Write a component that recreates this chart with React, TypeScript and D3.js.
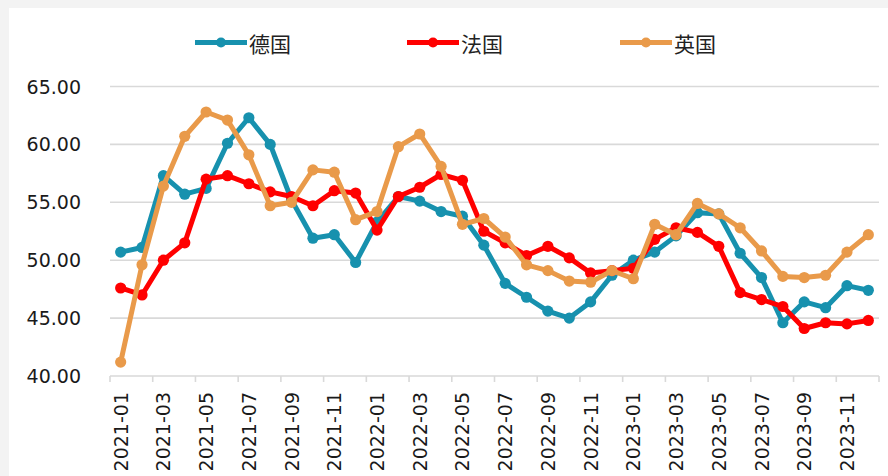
import React from "react";
import * as d3 from "d3";

const months = [
  "2021-01","2021-02","2021-03","2021-04","2021-05","2021-06","2021-07","2021-08","2021-09","2021-10","2021-11","2021-12",
  "2022-01","2022-02","2022-03","2022-04","2022-05","2022-06","2022-07","2022-08","2022-09","2022-10","2022-11","2022-12",
  "2023-01","2023-02","2023-03","2023-04","2023-05","2023-06","2023-07","2023-08","2023-09","2023-10","2023-11","2023-12",
];

const germany = [
  50.7, 51.1, 57.3, 55.7, 56.2, 60.1, 62.3, 60.0, 55.2, 51.9, 52.2, 49.8,
  53.3, 55.5, 55.1, 54.2, 53.8, 51.3, 48.0, 46.8, 45.6, 45.0, 46.4, 48.7,
  50.0, 50.7, 52.1, 54.1, 54.0, 50.6, 48.5, 44.6, 46.4, 45.9, 47.8, 47.4,
];

const france = [
  47.6, 47.0, 50.0, 51.5, 57.0, 57.3, 56.6, 55.9, 55.5, 54.7, 56.0, 55.8,
  52.6, 55.5, 56.3, 57.4, 56.9, 52.5, 51.5, 50.4, 51.2, 50.2, 48.9, 49.1,
  49.3, 51.8, 52.8, 52.4, 51.2, 47.2, 46.6, 46.0, 44.1, 44.6, 44.5, 44.8,
];

const uk = [
  41.2, 49.6, 56.4, 60.7, 62.8, 62.1, 59.1, 54.7, 55.0, 57.8, 57.6, 53.5,
  54.2, 59.8, 60.9, 58.1, 53.1, 53.6, 52.0, 49.6, 49.1, 48.2, 48.1, 49.1,
  48.4, 53.1, 52.2, 54.9, 54.0, 52.8, 50.8, 48.6, 48.5, 48.7, 50.7, 52.2,
];

const yTicks = [40, 45, 50, 55, 60, 65];

const seriesNames = ["德国", "法国", "英国"];
const seriesData = [germany, france, uk];
const colors = ["#1791ae", "#ff0000", "#e99a4a"];

export default function App() {
  const W = 888, H = 476;
  const x = d3.scaleBand<string>().domain(months).range([110, 879]).padding(0);
  const y = d3.scaleLinear().domain([40, 65]).range([376, 86.5]);
  const bw = x.bandwidth();
  const cx = (m: string) => (x(m) as number) + bw / 2;
  const line = d3.line<number>().x((_, i) => cx(months[i])).y((d) => y(d));

  const tickXs: number[] = [];
  for (let i = 0; i <= months.length; i += 2) tickXs.push(110 + i * bw);

  const legendX = [195, 407, 620];

  return (
    <svg width={W} height={H} style={{ position: "absolute", left: 0, top: 0, display: "block" }}>
      <rect x={0} y={0} width={W} height={H} fill="#f3f3f3" />
      <rect x={9} y={8} width={W - 9} height={H - 8} fill="#ffffff" />
      {yTicks.map((t) => (
        <g key={t}>
          <line x1={110} x2={879} y1={y(t)} y2={y(t)} stroke="#d9d9d9" strokeWidth={1.6} />
          <text x={81} y={y(t)} textAnchor="end" dominantBaseline="central"
            fontFamily="'DejaVu Sans', Verdana, sans-serif" fontSize={19} fill="#1a1a1a">
            {t.toFixed(2)}
          </text>
        </g>
      ))}
      {tickXs.map((tx, i) => (
        <line key={i} x1={tx} x2={tx} y1={y(40)} y2={y(40) + 6} stroke="#d9d9d9" strokeWidth={1.6} />
      ))}
      {months.map((m, i) =>
        i % 2 === 0 ? (
          <text key={m} transform={`translate(${cx(m)},392) rotate(-90)`} textAnchor="end"
            dominantBaseline="central" fontFamily="'DejaVu Sans', Verdana, sans-serif" fontSize={19} fill="#1a1a1a">
            {m}
          </text>
        ) : null
      )}
      {seriesData.map((data, s) => (
        <g key={s}>
          <path d={line(data) || ""} fill="none" stroke={colors[s]} strokeWidth={5} strokeLinejoin="round" />
          {data.map((v, i) => (
            <circle key={i} cx={cx(months[i])} cy={y(v)} r={5.6} fill={colors[s]} />
          ))}
        </g>
      ))}
      {seriesNames.map((n, s) => (
        <g key={n}>
          <line x1={legendX[s]} x2={legendX[s] + 52} y1={42.5} y2={42.5} stroke={colors[s]} strokeWidth={5} />
          <circle cx={legendX[s] + 26} cy={42.5} r={5} fill={colors[s]} />
          <text x={legendX[s] + 54} y={42.5} dominantBaseline="central"
            fontFamily="'Noto Sans CJK SC', sans-serif" fontSize={21} fill="#222">
            {n}
          </text>
        </g>
      ))}
    </svg>
  );
}
